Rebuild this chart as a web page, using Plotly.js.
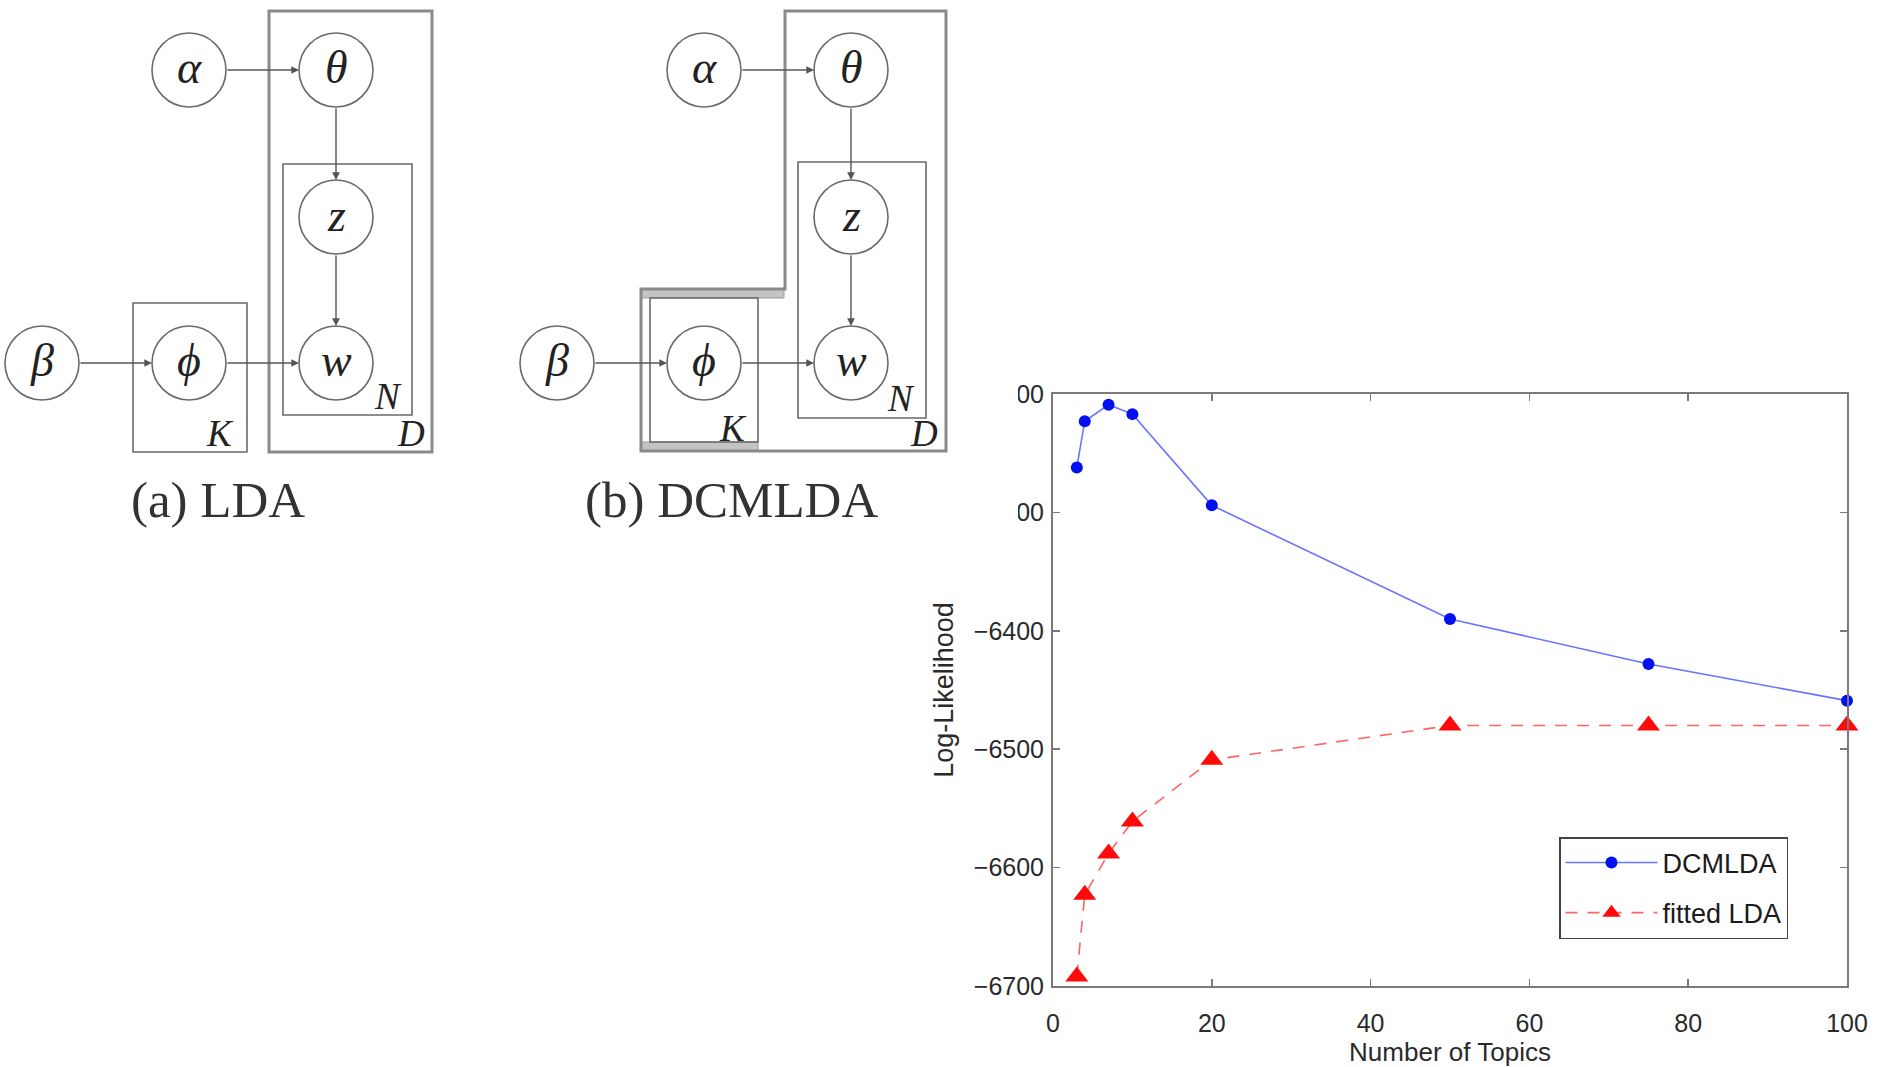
<!DOCTYPE html>
<html><head><meta charset="utf-8">
<script src="https://cdn.plot.ly/plotly-3.0.1.min.js"></script>
<style>html,body{margin:0;padding:0;background:#fff;}#chart{width:1880px;height:1067px;}</style>
</head><body><div id="chart"></div>
<script>
// ---- chart data ----
const topics = [3, 4, 7, 10, 20, 50, 75, 100];
const dcmlda = [-6262, -6223, -6209, -6217, -6294, -6390, -6428, -6459];
const fittedLda = [-6692, -6623, -6588, -6561, -6509, -6480, -6480, -6480];
const seriesNames = ['DCMLDA', 'fitted LDA'];
const xTicks = [0, 20, 40, 60, 80, 100];
const yTicks = [-6700, -6600, -6500, -6400, -6300, -6200];
const xTitle = 'Number of Topics';
const yTitle = 'Log-Likelihood';

// ---- diagram content ----
const captions = ['(a) LDA', '(b) DCMLDA'];
const nodeSymbols = ['α', 'θ', 'z', 'w', 'ϕ', 'β'];
const plateLabels = ['K', 'N', 'D'];

const W = 1880, H = 1067;
const X = p => p / W;
const Y = p => 1 - p / H;

// node layout (pixel positions) for the two diagrams
const R = 37;
function nodesAt(dx) {
  const pos = [[189, 70], [336, 70], [336, 217], [336, 363], [189, 363], [42, 363]];
  return pos.map((p, i) => ({ s: nodeSymbols[i], x: p[0] + dx, y: p[1] }));
}
const diagA = nodesAt(0);
const diagB = nodesAt(515);
const edges = [[0, 1], [1, 2], [2, 3], [4, 3], [5, 4]];

const shapes = [];
const annotations = [];
const gray = '#6a6a6a';

// white cover: the diagram image overlaps the top tick labels
shapes.push({ type: 'rect', xref: 'paper', yref: 'paper', x0: 0, x1: X(1018), y0: Y(570), y1: 1,
  fillcolor: '#ffffff', line: { width: 0 }, layer: 'above' });

function rect(x0, y0, x1, y1, col, w, fill) {
  shapes.push({ type: 'rect', xref: 'paper', yref: 'paper', x0: X(x0), x1: X(x1), y0: Y(y1), y1: Y(y0),
    line: { color: col, width: w }, fillcolor: fill || 'rgba(0,0,0,0)', layer: 'above' });
}
function drawNodes(nodes) {
  nodes.forEach(n => {
    shapes.push({ type: 'circle', xref: 'paper', yref: 'paper', x0: X(n.x - R), x1: X(n.x + R), y0: Y(n.y + R), y1: Y(n.y - R),
      line: { color: gray, width: 1.6 }, fillcolor: 'rgba(0,0,0,0)', layer: 'above' });
    annotations.push({ xref: 'paper', yref: 'paper', x: X(n.x), y: Y(n.y - 2), text: '<i>' + n.s + '</i>', showarrow: false,
      xanchor: 'center', yanchor: 'middle', font: { family: 'Liberation Serif, DejaVu Serif, serif', size: 46, color: '#222' } });
  });
  edges.forEach(e => {
    const a = nodes[e[0]], b = nodes[e[1]];
    const dx = b.x - a.x, dy = b.y - a.y, L = Math.hypot(dx, dy);
    const ux = dx / L, uy = dy / L;
    const tip = { x: b.x - ux * R, y: b.y - uy * R };
    const tail = { x: a.x + ux * R, y: a.y + uy * R };
    annotations.push({ xref: 'paper', yref: 'paper', x: X(tip.x), y: Y(tip.y), ax: tail.x - tip.x, ay: tail.y - tip.y,
      axref: 'pixel', ayref: 'pixel', text: '', showarrow: true, arrowhead: 2, arrowsize: 1.1, arrowwidth: 1.4,
      arrowcolor: '#555', standoff: 0, startstandoff: 0 });
  });
}
function plateLabel(t, x, y) {
  annotations.push({ xref: 'paper', yref: 'paper', x: X(x), y: Y(y), text: '<i>' + t + '</i>', showarrow: false,
    xanchor: 'center', yanchor: 'middle', font: { family: 'Liberation Serif, DejaVu Serif, serif', size: 37, color: '#222' } });
}

// Diagram (a) LDA
rect(133, 303, 247, 452, gray, 1.6);
rect(269, 11, 432, 452, '#8a8a8a', 3);
rect(283, 164, 412, 415, gray, 1.6);
drawNodes(diagA);
plateLabel(plateLabels[0], 220, 433);
plateLabel(plateLabels[1], 388, 396);
plateLabel(plateLabels[2], 411, 433);

// Diagram (b) DCMLDA
rect(641, 289, 784, 298, '#9a9a9a', 1, '#c4c4c4');
rect(641, 442, 758, 451, '#9a9a9a', 1, '#c4c4c4');
const P = (x, y) => X(x) + ',' + Y(y);
shapes.push({ type: 'path', xref: 'paper', yref: 'paper',
  path: 'M' + P(785, 11) + ' L' + P(946, 11) + ' L' + P(946, 451) + ' L' + P(641, 451) + ' L' + P(641, 289) + ' L' + P(785, 289) + ' Z',
  line: { color: '#8a8a8a', width: 3 }, fillcolor: 'rgba(0,0,0,0)', layer: 'above' });
rect(650, 298, 758, 442, gray, 1.6);
rect(798, 162, 926, 418, gray, 1.6);
drawNodes(diagB);
plateLabel(plateLabels[0], 733, 428);
plateLabel(plateLabels[1], 901, 398);
plateLabel(plateLabels[2], 924, 433);

// captions
[[218, captions[0]], [731, captions[1]]].forEach(c => {
  annotations.push({ xref: 'paper', yref: 'paper', x: X(c[0]), y: Y(500), text: c[1], showarrow: false,
    xanchor: 'center', yanchor: 'middle', font: { family: 'Liberation Serif, DejaVu Serif, serif', size: 51, color: '#333' } });
});

const axisCommon = {
  showline: true, linecolor: '#7a7a7a', linewidth: 2, mirror: 'ticks',
  ticks: 'inside', ticklen: 7, tickwidth: 1.5, tickcolor: '#7a7a7a',
  showgrid: false, zeroline: false,
  tickfont: { family: 'Liberation Sans, Arial, sans-serif', size: 25, color: '#2a2a2a' }
};

const traces = [
  { x: topics, y: dcmlda, name: seriesNames[0], type: 'scatter', mode: 'lines+markers', cliponaxis: false,
    line: { color: 'rgb(105,115,255)', width: 1.6 },
    marker: { color: '#0010ee', size: 12, symbol: 'circle' }, legendgroup: 'a' },
  { x: topics, y: fittedLda, name: seriesNames[1], type: 'scatter', mode: 'lines+markers', cliponaxis: false,
    line: { color: 'rgb(255,100,100)', width: 1.6, dash: '12px,10px' },
    marker: { color: '#ff0a0a', size: 20, symbol: 'triangle-up' }, legendgroup: 'b' }
];

const layout = {
  width: W, height: H,
  margin: { l: 0, r: 0, t: 0, b: 0 },
  paper_bgcolor: '#ffffff', plot_bgcolor: '#ffffff',
  showlegend: true,
  xaxis: Object.assign({}, axisCommon, {
    domain: [X(1053), X(1847)], range: [0, 100], tickvals: xTicks, ticklabelstandoff: 14,
    title: { text: xTitle, standoff: 8, font: { family: 'Liberation Sans, Arial, sans-serif', size: 26, color: '#2a2a2a' } }
  }),
  yaxis: Object.assign({}, axisCommon, {
    domain: [Y(986), Y(394)], range: [-6700, -6200], tickvals: yTicks, ticklabelstandoff: 2,
    title: { text: yTitle, standoff: 12, font: { family: 'Liberation Sans, Arial, sans-serif', size: 27, color: '#2a2a2a' } }
  }),
  legend: {
    x: X(1559), xanchor: 'left', y: Y(837), yanchor: 'top',
    bordercolor: '#444', borderwidth: 1.5, bgcolor: '#ffffff',
    font: { family: 'Liberation Sans, Arial, sans-serif', size: 27, color: '#1a1a1a' },
    tracegroupgap: 12, itemwidth: 92, entrywidth: 240, entrywidthmode: 'pixels', traceorder: 'grouped'
  },
  shapes: shapes,
  annotations: annotations
};

Plotly.newPlot('chart', traces, layout, { staticPlot: true, displayModeBar: false });
</script>
</body></html>
